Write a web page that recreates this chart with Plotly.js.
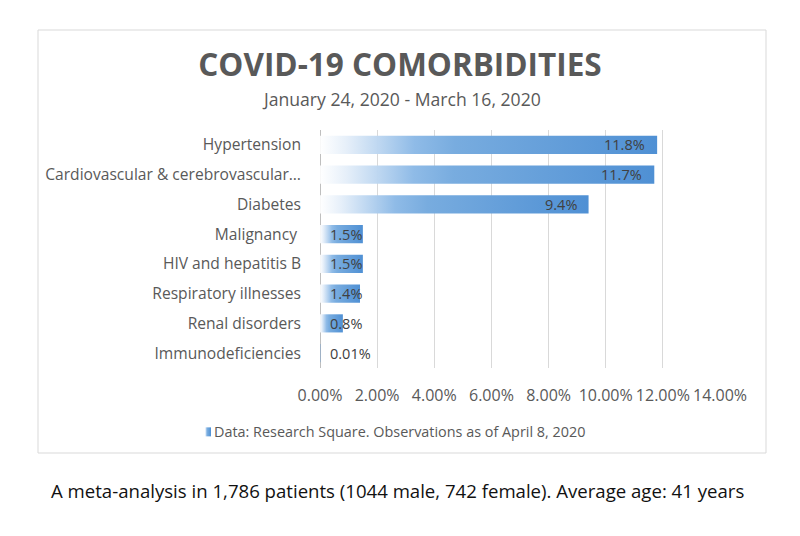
<!DOCTYPE html>
<html>
<head>
<meta charset="utf-8">
<script src="https://cdn.plot.ly/plotly-3.0.1.min.js"></script>
<style>
  html, body { margin: 0; padding: 0; background: #ffffff; }
  #chart { width: 800px; height: 536px; }
</style>
</head>
<body>
<div id="chart"></div>
<script>
// ---- Data ----
const categories = [
  "Hypertension",
  "Cardiovascular & cerebrovascular\u2026",
  "Diabetes",
  "Malignancy\u00a0",
  "HIV and hepatitis B",
  "Respiratory illnesses",
  "Renal disorders",
  "Immunodeficiencies"
];
const values = [11.8, 11.7, 9.4, 1.5, 1.5, 1.4, 0.8, 0.01];
const valueLabels = ["11.8%", "11.7%", "9.4%", "1.5%", "1.5%", "1.4%", "0.8%", "0.01%"];
const tickVals = [0, 2, 4, 6, 8, 10, 12, 14];
const tickText = ["0.00%", "2.00%", "4.00%", "6.00%", "8.00%", "10.00%", "12.00%", "14.00%"];
const seriesName = "Data: Research Square. Observations as of April 8, 2020";
const titleText = "COVID-19 COMORBIDITIES";
const subtitleText = "January 24, 2020 - March 16, 2020";
const captionText = "A meta-analysis in 1,786 patients (1044 male, 742 female). Average age: 41 years";

const FONT = "'Open Sans', 'Noto Sans', sans-serif";
const GREY = "#595959";

// plot area in pixels: x 320..720, y 130..368
const L = 320, R = 80, T = 130, B = 168, W = 800, H = 536;
const PW = W - L - R, PH = H - T - B;
const px2x = p => (p - L) / PW;
const py2y = p => (H - B - p) / PH;

const trace = {
  type: "bar",
  orientation: "h",
  y: categories,
  x: values,
  name: seriesName,
  marker: { color: "#5b9bd5", line: { width: 0 } },
  hoverinfo: "none",
  showlegend: true
};

const labelAnnotations = values.map((v, i) => {
  const big = v >= 2;
  return {
    x: big ? v : 0,
    y: categories[i],
    xref: "x", yref: "y",
    text: valueLabels[i],
    showarrow: false,
    xanchor: big ? "right" : "left",
    yanchor: "middle",
    xshift: big ? -10 : 8,
    font: { family: FONT, size: 14.5, color: "#404040" }
  };
});

const layout = {
  width: W, height: H,
  margin: { l: L, r: R, t: T, b: B, pad: 0 },
  paper_bgcolor: "#ffffff",
  plot_bgcolor: "rgba(0,0,0,0)",
  font: { family: FONT, color: GREY },
  bargap: 0.39,
  showlegend: true,
  title: {
    text: "<b>" + titleText + "</b>",
    x: 0.5, xref: "container", xanchor: "center",
    y: 1 - 65 / H, yref: "container", yanchor: "middle",
    font: { family: FONT, size: 31.5, color: GREY }
  },
  xaxis: {
    range: [0, 14],
    tickvals: tickVals,
    ticktext: tickText,
    tickangle: 0,
    showgrid: true,
    gridcolor: "#d9d9d9",
    gridwidth: 1,
    zeroline: true,
    zerolinecolor: "#bfbfbf",
    zerolinewidth: 1,
    showline: false,
    ticks: "",
    ticklabelstandoff: 16,
    tickfont: { family: FONT, size: 16, color: GREY },
    fixedrange: true
  },
  yaxis: {
    type: "category",
    autorange: "reversed",
    showgrid: false,
    zeroline: false,
    showline: false,
    ticks: "",
    ticklabelstandoff: 18,
    tickfont: { family: FONT, size: 15.6, color: GREY },
    fixedrange: true
  },
  legend: {
    orientation: "h",
    x: px2x(174), xanchor: "left",
    y: py2y(432), yanchor: "middle",
    font: { family: FONT, size: 14.4, color: GREY },
    bgcolor: "rgba(0,0,0,0)",
    borderwidth: 0,
    itemwidth: 30
  },
  shapes: [
    {
      type: "rect", xref: "paper", yref: "paper",
      x0: px2x(38), x1: px2x(766), y0: py2y(453), y1: py2y(30),
      line: { color: "#d9d9d9", width: 1 },
      fillcolor: "rgba(0,0,0,0)", layer: "below"
    }
  ],
  annotations: labelAnnotations.concat([
    {
      xref: "paper", yref: "paper",
      x: 0.5 * (px2x(0) + px2x(802)), y: py2y(99),
      xanchor: "center", yanchor: "middle",
      text: subtitleText, showarrow: false,
      font: { family: FONT, size: 17.6, color: GREY }
    },
    {
      xref: "paper", yref: "paper",
      x: px2x(49), y: py2y(490),
      xanchor: "left", yanchor: "middle",
      text: captionText, showarrow: false,
      font: { family: FONT, size: 18.6, color: "#111111" }
    }
  ])
};

function applyGradient(gd) {
  const svg = gd.querySelector("svg.main-svg");
  if (!svg) return;
  const NS = "http://www.w3.org/2000/svg";
  let defs = svg.querySelector("defs");
  if (!defs) { defs = document.createElementNS(NS, "defs"); svg.insertBefore(defs, svg.firstChild); }
  if (!svg.querySelector("#barGrad")) {
    const g = document.createElementNS(NS, "linearGradient");
    g.setAttribute("id", "barGrad");
    g.setAttribute("x1", "0"); g.setAttribute("y1", "0");
    g.setAttribute("x2", "1"); g.setAttribute("y2", "0");
    [["0", "#ffffff", "0.9"], ["0.08", "#e4eef9", "0.95"], ["0.28", "#8fbbe7", "1"],
     ["0.4", "#78acdf", "1"], ["1", "#4f90d4", "1"]].forEach(s => {
      const st = document.createElementNS(NS, "stop");
      st.setAttribute("offset", s[0]);
      st.setAttribute("stop-color", s[1]);
      st.setAttribute("stop-opacity", s[2]);
      g.appendChild(st);
    });
    defs.appendChild(g);
  }
  gd.querySelectorAll(".trace.bars .point path").forEach(p => {
    p.style.fill = "url(#barGrad)";
    p.style.fillOpacity = "1";
  });
  gd.querySelectorAll(".legend .legendpoints path").forEach(p => {
    p.setAttribute("d", "M17,4.5H11V-4.5H17Z");
    p.style.fill = "url(#barGrad)";
    p.style.stroke = "none";
  });
}

const gd = document.getElementById("chart");
Plotly.newPlot(gd, [trace], layout, { staticPlot: true, displayModeBar: false }).then(() => {
  applyGradient(gd);
  gd.on && gd.on("plotly_afterplot", () => applyGradient(gd));
});
</script>
</body>
</html>
